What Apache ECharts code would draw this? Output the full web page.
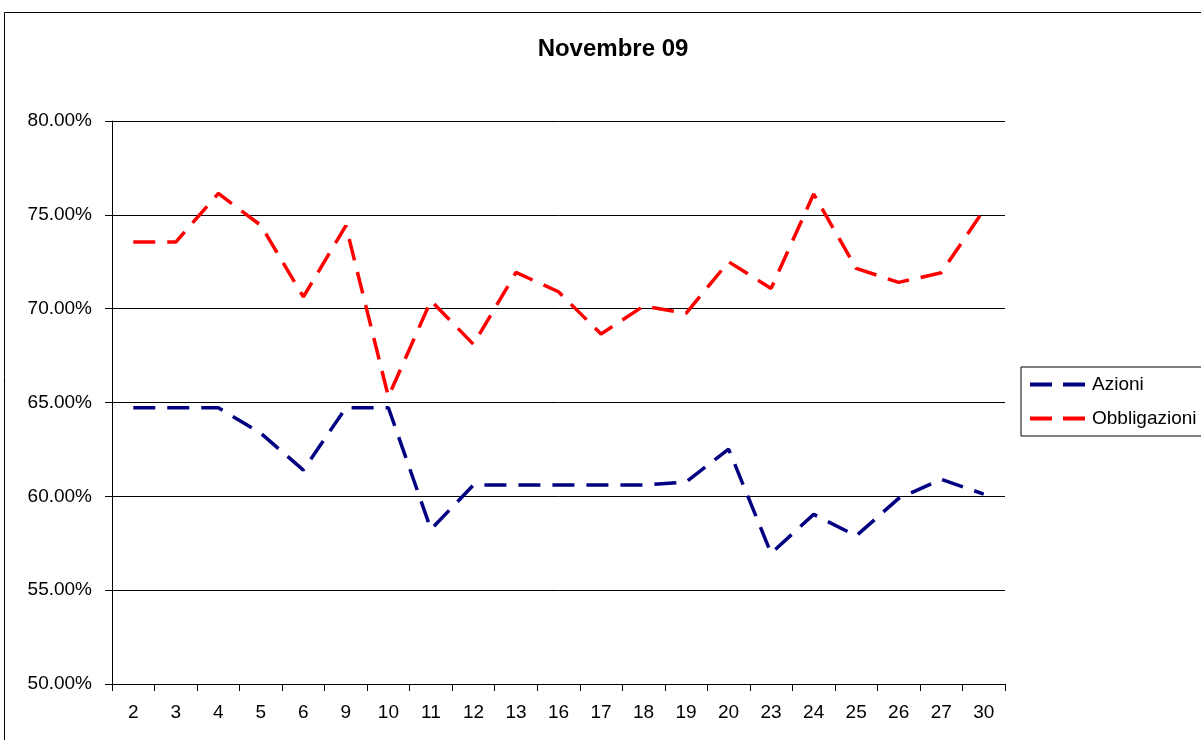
<!DOCTYPE html>
<html>
<head>
<meta charset="utf-8">
<script src="https://cdn.jsdelivr.net/npm/echarts@6/dist/echarts.min.js"></script>
<style>
  html, body { margin: 0; padding: 0; background: #fff; }
  #chart { width: 1201px; height: 740px; }
</style>
</head>
<body>
<div id="chart"></div>
<script>
// giorni di novembre
const days = ['2', '3', '4', '5', '6', '9', '10', '11', '12', '13', '16', '17', '18', '19', '20', '23', '24', '25', '26', '27', '30'];

// percentuali
const azioni = [64.72, 64.72, 64.72, 63.36, 61.40, 64.72, 64.72, 58.24, 60.60, 60.60, 60.60, 60.60, 60.60, 60.76, 62.52, 56.96, 59.04, 57.89, 59.89, 60.91, 60.12];
const obbligazioni = [73.55, 73.55, 76.14, 74.44, 70.63, 74.42, 65.31, 70.42, 68.10, 71.93, 70.90, 68.65, 70.14, 69.75, 72.50, 71.08, 76.11, 72.15, 71.40, 71.91, 75.25];

const font = 'Liberation Sans, Arial, sans-serif';
// two dashes, like the excel legend sample
const dashIcon = 'path://M0,0H22V4H0Z M33,0H55V4H33Z';

const chart = echarts.init(document.getElementById('chart'));

const option = {
  backgroundColor: '#fff',
  animation: false,
  graphic: [
    {
      type: 'rect',
      shape: { x: 4.5, y: 12.5, width: 1300, height: 800 },
      style: { fill: 'none', stroke: '#000', lineWidth: 1 },
      silent: true
    },
    {
      type: 'text',
      x: 613,
      y: 49,
      style: {
        text: 'Novembre 09',
        fontFamily: font,
        fontSize: 24,
        fontWeight: 'bold',
        fill: '#000',
        align: 'center',
        verticalAlign: 'middle'
      },
      silent: true
    }
  ],
  legend: {
    orient: 'vertical',
    left: 1021,
    top: 367,
    padding: [8, 9, 8, 9],
    itemGap: 15,
    itemWidth: 55,
    itemHeight: 4,
    borderColor: '#000',
    borderWidth: 1,
    textStyle: { fontFamily: font, fontSize: 19, color: '#000', padding: [0, 0, 0, 2] },
    data: [
      { name: 'Azioni', icon: dashIcon },
      { name: 'Obbligazioni', icon: dashIcon }
    ]
  },
  grid: {
    left: 112,
    right: 196,
    top: 121,
    bottom: 56,
    containLabel: false
  },
  xAxis: {
    type: 'category',
    data: days,
    boundaryGap: true,
    axisLine: { lineStyle: { color: '#000', width: 1 } },
    axisTick: { show: true, length: 7, lineStyle: { color: '#000' } },
    axisLabel: { color: '#000', fontFamily: font, fontSize: 19, margin: 19 },
    splitLine: { show: false }
  },
  yAxis: {
    type: 'value',
    min: 50,
    max: 80,
    interval: 5,
    axisLine: { show: true, lineStyle: { color: '#000', width: 1 } },
    axisTick: { show: true, length: 7, lineStyle: { color: '#000' } },
    axisLabel: {
      color: '#000',
      fontFamily: font,
      fontSize: 19,
      margin: 20,
      formatter: (v) => v.toFixed(2) + '%'
    },
    splitLine: { show: true, lineStyle: { color: '#000', width: 1 } }
  },
  series: [
    {
      name: 'Azioni',
      type: 'line',
      data: azioni,
      symbol: 'none',
      itemStyle: { color: '#000080' },
      lineStyle: { color: '#000080', width: 3.5, type: [22, 12] }
    },
    {
      name: 'Obbligazioni',
      type: 'line',
      data: obbligazioni,
      symbol: 'none',
      itemStyle: { color: '#ff0000' },
      lineStyle: { color: '#ff0000', width: 3.5, type: [22, 12] }
    }
  ]
};

chart.setOption(option);
</script>
</body>
</html>
